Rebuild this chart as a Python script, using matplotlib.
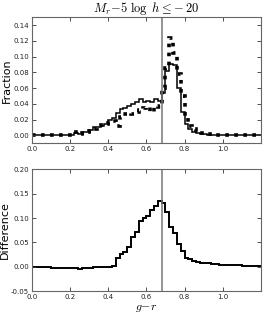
import numpy as np
import matplotlib
matplotlib.use("Agg")
import matplotlib.pyplot as plt

plt.rcParams['mathtext.fontset'] = 'cm'
plt.rcParams['font.family'] = ['DejaVu Sans']

bin_width = 0.02
n_bins = 60
edges = np.round(np.arange(n_bins + 1) * bin_width, 2)

frac_solid = [0.001, 0.001, 0.001, 0.001, 0.001, 0.001, 0.001, 0.001, 0.001, 0.001,
              0.001, 0.003, 0.002, 0.004, 0.005, 0.007, 0.011, 0.011, 0.012, 0.015,
              0.020, 0.022, 0.028, 0.033, 0.035, 0.038, 0.040, 0.043, 0.046, 0.043,
              0.044, 0.043, 0.046, 0.044, 0.054, 0.082, 0.091, 0.090, 0.060, 0.030,
              0.015, 0.008, 0.005, 0.003, 0.002, 0.002, 0.001, 0.001, 0.001, 0.001,
              0.001, 0.001, 0.001, 0.001, 0.001, 0.001, 0.001, 0.001, 0.001, 0.001]

frac_dotted = [0.001, 0.000, 0.001, 0.001, 0.001, 0.000, 0.001, 0.001, 0.000, 0.001,
               0.001, 0.004, 0.002, 0.003, 0.004, 0.006, 0.008, 0.010, 0.013, 0.015,
               0.016, 0.018, 0.012, 0.024, 0.027, 0.028, 0.027, 0.030, 0.032, 0.035,
               0.036, 0.030, 0.038, 0.036, 0.060, 0.086, 0.124, 0.105, 0.078, 0.050,
               0.022, 0.012, 0.008, 0.005, 0.003, 0.003, 0.002, 0.002, 0.001, 0.001,
               0.001, 0.001, 0.001, 0.001, 0.001, 0.001, 0.001, 0.001, 0.001, 0.001]

difference = [0.000, 0.000, -0.001, -0.001, -0.001, -0.002, -0.002, -0.002, -0.002, -0.002,
              -0.002, -0.003, -0.004, -0.003, -0.002, -0.002, 0.000, 0.000, 0.000, -0.001,
              -0.001, 0.001, 0.019, 0.026, 0.031, 0.041, 0.061, 0.071, 0.094, 0.101,
              0.105, 0.117, 0.125, 0.136, 0.131, 0.112, 0.082, 0.069, 0.047, 0.032,
              0.019, 0.015, 0.011, 0.009, 0.008, 0.007, 0.007, 0.006, 0.005, 0.004,
              0.004, 0.004, 0.003, 0.003, 0.003, 0.002, 0.002, 0.002, 0.001, 0.001]

cut = 0.68

fig = plt.figure(figsize=(2.64, 3.15), dpi=100)
ax1 = fig.add_axes([0.121, 0.545, 0.867, 0.40])
ax2 = fig.add_axes([0.121, 0.076, 0.867, 0.386])

ax1.stairs(frac_solid, edges, baseline=None, color='black', lw=1.1)
ax1.stairs(frac_dotted, edges, baseline=None, color='black', lw=2.6,
           linestyle=(0, (1, 1.5)))
ax1.axvline(cut, color='#777777', lw=1.1)
ax1.set_xlim(0, 1.2)
ax1.set_ylim(-0.01, 0.15)
ax1.set_yticks(np.arange(0, 0.1401, 0.02))
ax1.set_ylabel('Fraction', fontsize=8, labelpad=1)
ax1.set_title(r'$M_r\!-\!5\ \log\ h \leq\! -20$', fontsize=9, pad=4)

ax2.stairs(difference, edges, baseline=None, color='black', lw=1.4)
ax2.axvline(cut, color='#777777', lw=1.1)
ax2.set_xlim(0, 1.2)
ax2.set_ylim(-0.05, 0.20)
ax2.set_yticks(np.arange(-0.05, 0.2001, 0.05))
ax2.set_ylabel('Difference', fontsize=8, labelpad=1)
ax2.set_xlabel(r'$g\!-\!r$', fontsize=8.5, labelpad=0.5)

for ax in (ax1, ax2):
    ax.set_xticks([0.0, 0.2, 0.4, 0.6, 0.8, 1.0])
    ax.xaxis.set_major_formatter(matplotlib.ticker.FormatStrFormatter('%.1f'))
    ax.yaxis.set_major_formatter(matplotlib.ticker.FormatStrFormatter('%.2f'))
    ax.tick_params(direction='in', top=True, right=True, length=3, width=0.6,
                   labelsize=5, pad=2, colors='#333333', labelcolor='#222222')
    for s in ax.spines.values():
        s.set_color('#666666')
        s.set_linewidth(0.8)

fig.savefig('out.png', dpi=100)
